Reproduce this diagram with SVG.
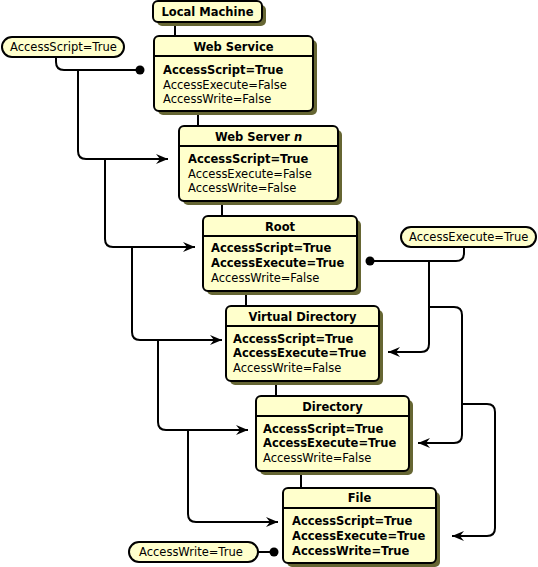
<svg xmlns="http://www.w3.org/2000/svg" width="538" height="567" viewBox="0 0 538 567">
<style>
text{font-family:"DejaVu Sans","Verdana",sans-serif;font-size:11.5px;fill:#000}
.b{font-weight:bold}
.t{font-weight:bold;text-anchor:middle}
.box{fill:#ffffcc;stroke:#000;stroke-width:2}
.sh{fill:#666633}
.pill{fill:#ffffcc;stroke:#000;stroke-width:2}
.ln{fill:none;stroke:#000;stroke-width:2}
.c{fill:none;stroke:#000;stroke-width:2}
.ar{fill:none;stroke:#000;stroke-width:2;marker-end:url(#arr)}
</style>
<defs>
<marker id="arr" markerUnits="userSpaceOnUse" markerWidth="14" markerHeight="12" refX="12" refY="5" orient="auto">
<path d="M0,0 L12,5 L0,10 L4,5 z" fill="#000"/>
</marker>
</defs>
<g id="connectors">
<path class="ln" d="M175,22 V36"/>
<path class="ln" d="M198,111 V126"/>
<path class="ln" d="M222,201 V216"/>
<path class="ln" d="M246,291 V306"/>
<path class="ln" d="M276,381 V396"/>
<path class="ln" d="M301,471 V488"/>
<path class="c" d="M56,57 V62 Q56,70 64,70 H140"/>
<circle cx="140" cy="70" r="4.5"/>
<path class="ar" d="M78,70 V151 Q78,159 86,159 H168"/>
<path class="ar" d="M105,159 V239 Q105,247 113,247 H195"/>
<path class="ar" d="M132,247 V332 Q132,340 140,340 H222"/>
<path class="ar" d="M158,340 V422 Q158,430 166,430 H248"/>
<path class="ar" d="M188,430 V514 Q188,522 196,522 H278"/>
<path class="c" d="M464,247 V253 Q464,261 456,261 H370"/>
<circle cx="370" cy="261" r="4.5"/>
<path class="ar" d="M429,261 V344 Q429,352 421,352 H388"/>
<path class="ar" d="M429,307 H454 Q462,307 462,315 V435 Q462,443 454,443 H418"/>
<path class="ar" d="M462,404 H487 Q495,404 495,412 V528 Q495,536 487,536 H452"/>
<path class="c" d="M258,552 H274"/>
<circle cx="274" cy="552" r="4.5"/>
</g>
<g id="local-machine">
<rect class="sh" x="157" y="5" width="109" height="21" rx="5"/>
<rect class="box" x="153" y="1" width="109" height="21" rx="5"/>
<text class="t" x="207.5" y="16">Local Machine</text>
</g>
<g id="web-service">
<rect class="sh" x="158" y="40" width="159" height="75" rx="5"/>
<rect class="box" x="154" y="36" width="159" height="75" rx="5"/>
<path class="ln" d="M154,56 H313"/>
<text class="t" x="233.5" y="51">Web Service</text>
<text class="b" x="163" y="74">AccessScript=True</text>
<text x="163" y="89">AccessExecute=False</text>
<text x="163" y="103">AccessWrite=False</text>
</g>
<g id="web-server">
<rect class="sh" x="183" y="130" width="159" height="75" rx="5"/>
<rect class="box" x="179" y="126" width="159" height="75" rx="5"/>
<path class="ln" d="M179,146 H338"/>
<text class="t" x="258.5" y="141">Web Server <tspan font-style="italic">n</tspan></text>
<text class="b" x="188" y="163">AccessScript=True</text>
<text x="188" y="178">AccessExecute=False</text>
<text x="188" y="192">AccessWrite=False</text>
</g>
<g id="root">
<rect class="sh" x="207" y="220" width="154" height="75" rx="5"/>
<rect class="box" x="203" y="216" width="154" height="75" rx="5"/>
<path class="ln" d="M203,236 H357"/>
<text class="t" x="280" y="231">Root</text>
<text class="b" x="211" y="252">AccessScript=True</text>
<text class="b" x="211" y="267">AccessExecute=True</text>
<text x="211" y="282">AccessWrite=False</text>
</g>
<g id="virtual-directory">
<rect class="sh" x="230" y="310" width="153" height="75" rx="5"/>
<rect class="box" x="226" y="306" width="153" height="75" rx="5"/>
<path class="ln" d="M226,326 H379"/>
<text class="t" x="302.5" y="321">Virtual Directory</text>
<text class="b" x="233" y="343">AccessScript=True</text>
<text class="b" x="233" y="357">AccessExecute=True</text>
<text x="233" y="372">AccessWrite=False</text>
</g>
<g id="directory">
<rect class="sh" x="260" y="400" width="153" height="75" rx="5"/>
<rect class="box" x="256" y="396" width="153" height="75" rx="5"/>
<path class="ln" d="M256,416 H409"/>
<text class="t" x="332.5" y="411">Directory</text>
<text class="b" x="263" y="433">AccessScript=True</text>
<text class="b" x="263" y="447">AccessExecute=True</text>
<text x="263" y="462">AccessWrite=False</text>
</g>
<g id="file">
<rect class="sh" x="287" y="492" width="153" height="75" rx="5"/>
<rect class="box" x="283" y="488" width="153" height="75" rx="5"/>
<path class="ln" d="M283,508 H436"/>
<text class="t" x="359.5" y="502">File</text>
<text class="b" x="292" y="525">AccessScript=True</text>
<text class="b" x="292" y="540">AccessExecute=True</text>
<text class="b" x="292" y="555">AccessWrite=True</text>
</g>
<g id="pill-script">
<rect class="pill" x="2" y="37" width="122" height="20" rx="10"/>
<text x="10" y="51">AccessScript=True</text>
</g>
<g id="pill-execute">
<rect class="pill" x="401" y="227" width="135" height="20" rx="10"/>
<text x="409" y="241">AccessExecute=True</text>
</g>
<g id="pill-write">
<rect class="pill" x="129" y="542" width="129" height="20" rx="10"/>
<text x="139" y="556">AccessWrite=True</text>
</g>
</svg>
